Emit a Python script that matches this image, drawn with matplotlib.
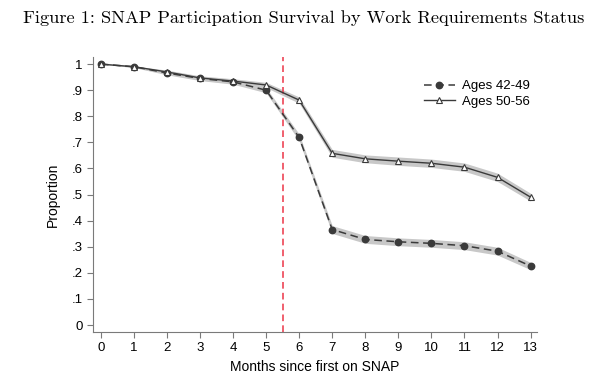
import matplotlib.pyplot as plt
import numpy as np

# ---- Data ----
months = np.arange(0, 14)
young = [1.0, 0.99, 0.966, 0.945, 0.932, 0.90, 0.719, 0.366, 0.328, 0.319,
         0.313, 0.304, 0.283, 0.226]
old = [1.0, 0.99, 0.97, 0.947, 0.935, 0.92, 0.862, 0.658, 0.637, 0.628,
       0.62, 0.605, 0.566, 0.49]
# approximate CI half-widths
young_ci = [0.0, 0.003, 0.007, 0.008, 0.009, 0.010, 0.013, 0.015, 0.015, 0.015,
            0.015, 0.015, 0.015, 0.014]
old_ci = [0.0, 0.003, 0.007, 0.008, 0.009, 0.010, 0.012, 0.015, 0.015, 0.016,
          0.016, 0.016, 0.016, 0.015]
yticks = [0, .1, .2, .3, .4, .5, .6, .7, .8, .9, 1]
ytick_labels = ["0", ".1", ".2", ".3", ".4", ".5", ".6", ".7", ".8", ".9", "1"]

young = np.array(young)
old = np.array(old)
young_ci = np.array(young_ci)
old_ci = np.array(old_ci)

plt.rcParams["font.family"] = ["Liberation Sans", "DejaVu Sans"]

LINE = "#3a3a3a"
BAND = "#c8c8c8"
AXIS = "#7a7a7a"
RED = "#ee4455"

fig = plt.figure(figsize=(6.07, 3.83), dpi=100)
ax = fig.add_axes([0.153, 0.133, 0.732, 0.718])

ax.fill_between(months, young - young_ci, young + young_ci, color=BAND, lw=0, zorder=1)
ax.fill_between(months, old - old_ci, old + old_ci, color=BAND, lw=0, zorder=1)

ax.plot(months, young, color=LINE, lw=1.1, ls=(0, (5, 3)), marker="o", ms=4.6,
        mfc=LINE, mec=LINE, label="Ages 42-49", zorder=3)
ax.plot(months, old, color=LINE, lw=1.0, ls="-", marker="^", ms=4.8,
        mfc="white", mec=LINE, mew=0.8, label="Ages 50-56", zorder=3)

ax.axvline(5.5, color=RED, lw=1.2, ls=(0, (4, 2.5)), zorder=2)

ax.set_xlim(-0.24, 13.2)
ax.set_ylim(-0.027, 1.027)
ax.set_xticks(months)
ax.set_yticks(yticks)
ax.set_yticklabels(ytick_labels)
ax.tick_params(axis="both", labelsize=9.5, color=AXIS, length=4, width=0.8)
for s in ["top", "right"]:
    ax.spines[s].set_visible(False)
for s in ["left", "bottom"]:
    ax.spines[s].set_color(AXIS)
    ax.spines[s].set_linewidth(0.8)

ax.set_ylabel("Proportion", fontsize=10, labelpad=8)
ax.set_xlabel("Months since first on SNAP", fontsize=10, labelpad=4)

leg = ax.legend(loc="upper right", bbox_to_anchor=(1.01, 0.96), frameon=False,
                fontsize=9.5, handlelength=2.4, labelspacing=0.25, handletextpad=0.5)

fig.text(0.5, 0.952, "Figure 1: SNAP Participation Survival by Work Requirements Status",
         ha="center", va="center", fontsize=13.2, family="cmr10")

fig.savefig("out.png", dpi=100, facecolor="white")
